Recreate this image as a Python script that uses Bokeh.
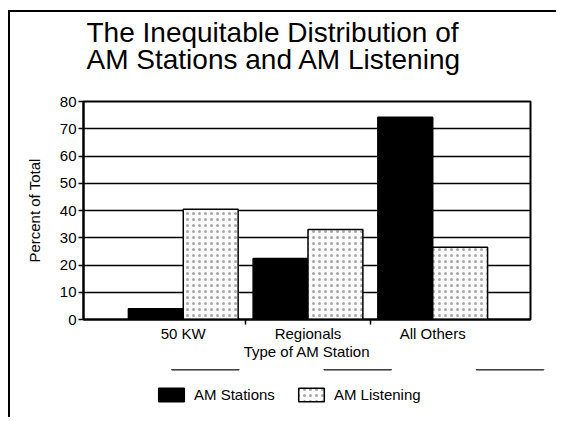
import numpy as np
from bokeh.plotting import figure
from bokeh.layouts import column
from bokeh.models import (Range1d, FixedTicker, Legend, LegendItem, ColumnDataSource, Title)
from bokeh.transform import dodge
from bokeh.embed import file_html
from bokeh.resources import INLINE

categories = ["50 KW", "Regionals", "All Others"]
am_stations = [3.9, 22.4, 74.2]
am_listening = [40.5, 33.0, 26.5]
y_ticks = [0, 10, 20, 30, 40, 50, 60, 70, 80]
series_names = ["AM Stations", "AM Listening"]

FONT = "Liberation Sans"

centers = [i + 0.5 for i in range(len(categories))]
boundaries = [i for i in range(1, len(categories))]
src = ColumnDataSource(dict(x=centers, cat=categories, st=am_stations, li=am_listening))

p = figure(frame_width=447, frame_height=218, output_backend="svg", toolbar_location=None,
           x_range=Range1d(-0.3, 3.284), y_range=Range1d(0, 80),
           min_border_left=73, min_border_right=26, min_border_top=89, min_border_bottom=50)
p.outline_line_color = "black"
p.outline_line_width = 2
p.background_fill_color = "white"
p.border_fill_color = "white"

bw = 0.44
black_style = dict(fill_color="black", line_color="black", line_width=1.5)
dot_style = dict(fill_color="#fafafa", line_color="black", line_width=1.5,
                 hatch_pattern="dot", hatch_color="#a8a8a8", hatch_scale=6, hatch_weight=1)
p.vbar(x=dodge("x", -bw / 2, range=p.x_range), top="st", width=bw, source=src, **black_style)
p.vbar(x=dodge("x", bw / 2, range=p.x_range), top="li", width=bw, source=src, **dot_style)

# axes
xa = p.xaxis[0]
xa.ticker = FixedTicker(ticks=centers, minor_ticks=boundaries)
xa.major_label_overrides = {c: n for c, n in zip(centers, categories)}
xa.major_tick_line_color = None
xa.major_tick_out = 0
xa.major_tick_in = 0
xa.minor_tick_line_color = "black"
xa.minor_tick_line_width = 1.5
xa.minor_tick_out = 5
xa.minor_tick_in = 0
xa.axis_line_color = "black"
xa.axis_line_width = 2
xa.major_label_text_font = FONT
xa.major_label_text_font_size = "15px"
xa.major_label_text_color = "black"
xa.major_label_standoff = 0
xa.axis_label = "Type of AM Station"
xa.axis_label_text_font = FONT
xa.axis_label_text_font_size = "15px"
xa.axis_label_text_font_style = "normal"
xa.axis_label_text_color = "black"
xa.axis_label_standoff = -2

ya = p.yaxis[0]
ya.ticker = FixedTicker(ticks=y_ticks)
ya.minor_tick_line_color = None
ya.major_tick_line_color = "black"
ya.major_tick_line_width = 1.5
ya.major_tick_out = 5
ya.major_tick_in = 0
ya.axis_line_color = "black"
ya.axis_line_width = 2
ya.major_label_text_font = FONT
ya.major_label_text_font_size = "15px"
ya.major_label_text_color = "black"
ya.major_label_standoff = 2
ya.axis_label = "Percent of Total"
ya.axis_label_text_font = FONT
ya.axis_label_text_font_size = "15px"
ya.axis_label_text_font_style = "normal"
ya.axis_label_text_color = "black"
ya.axis_label_standoff = 14

p.xgrid.grid_line_color = None
p.ygrid.ticker = FixedTicker(ticks=y_ticks)
p.ygrid.grid_line_color = "black"
p.ygrid.grid_line_width = 1.5

# title (two lines)
p.title.text = "The Inequitable Distribution of\nAM Stations and AM Listening"
p.title.text_font = FONT
p.title.text_font_size = "28px"
p.title.text_font_style = "normal"
p.title.text_color = "black"
p.title.text_line_height = 0.9
p.title.align = "left"
p.title.offset = 3
p.title.standoff = 2
# spacer between the title and the plot frame
p.add_layout(Title(text=" ", text_font_size="1px", standoff=22), "above")

# legend strip below the chart (its bars lie outside its visible range)
q = figure(frame_width=546, frame_height=48, output_backend="svg", toolbar_location=None,
           x_range=Range1d(-0.3, 3.284), y_range=Range1d(-2, -1),
           x_axis_location=None, y_axis_location=None,
           min_border_left=0, min_border_right=0, min_border_top=0, min_border_bottom=0)
q.outline_line_color = None
q.xgrid.grid_line_color = None
q.ygrid.grid_line_color = None
q.background_fill_color = "white"
q.border_fill_color = "white"
l1 = q.vbar(x="x", top="st", width=bw, source=src, **black_style)
l2 = q.vbar(x="x", top="li", width=bw, source=src, **dot_style)
legend = Legend(items=[LegendItem(label=series_names[0], renderers=[l1]),
                       LegendItem(label=series_names[1], renderers=[l2])],
                orientation="horizontal", location=(145, 14),
                glyph_width=32, glyph_height=17, spacing=20, label_standoff=7,
                padding=0, margin=0, border_line_color=None, background_fill_alpha=0,
                label_text_font=FONT, label_text_font_size="15px", label_text_color="black")
q.add_layout(legend, "center")

layout = column(p, q, spacing=0,
                styles={"border-left": "2px solid black", "border-top": "2px solid black",
                        "margin-left": "8px", "margin-top": "10px"})

open("out.html", "w").write(file_html(layout, INLINE))
